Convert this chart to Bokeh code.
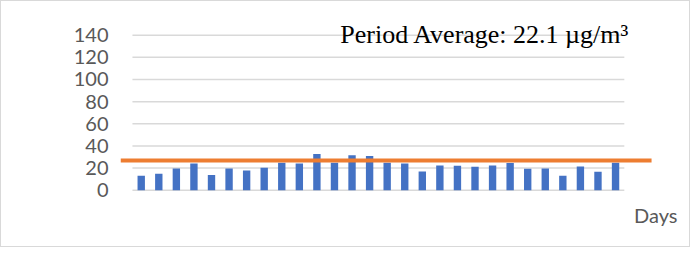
from bokeh.plotting import figure
from bokeh.models import Range1d, FixedTicker, Label, ColumnDataSource
from bokeh.embed import file_html
from bokeh.resources import INLINE

# ---- data ----
days = list(range(1, 29))
pm_values = [13.1, 14.9, 19.7, 24.2, 13.7, 19.7, 17.9, 20.3, 24.8, 24.2, 32.8, 24.8,
             31.6, 31.0, 24.8, 24.2, 17.0, 22.4, 22.1, 21.2, 22.4, 24.5, 19.4, 19.7,
             13.1, 21.5, 16.7, 24.8]
line_level = 26.8
y_ticks = [0, 20, 40, 60, 80, 100, 120, 140]
title_text = "Period Average: 22.1 \u00b5g/m\u00b3"
x_label = "Days"

W, H = 690, 247
p = figure(width=W, height=H, output_backend="svg", toolbar_location=None,
           x_range=Range1d(-0.18, 32.21), y_range=Range1d(-37.3, 161.4),
           min_border_left=119, min_border_right=2, min_border_top=10, min_border_bottom=17)
p.outline_line_color = None
p.background_fill_color = "white"
p.border_fill_color = "white"
p.xgrid.visible = False
p.ygrid.visible = False
p.xaxis.visible = False
p.styles = {"border": "1px solid #d9d9d9", "box-sizing": "border-box"}

# gridlines
p.segment(x0=[0.5] * len(y_ticks), x1=[len(days) + 0.5] * len(y_ticks), y0=y_ticks, y1=y_ticks,
          line_color="#d9d9d9", line_width=1.5)

ya = p.yaxis[0]
ya.ticker = FixedTicker(ticks=y_ticks)
ya.axis_line_color = None
ya.major_tick_line_color = None
ya.minor_tick_line_color = None
ya.major_tick_out = 0
ya.major_tick_in = 0
ya.major_label_standoff = 12
ya.major_label_text_font = "Lato"
ya.major_label_text_font_size = "20px"
ya.major_label_text_color = "#595959"

src = ColumnDataSource(dict(x=days, top=pm_values))
p.vbar(x="x", top="top", bottom=0, width=0.42, source=src, fill_color="#4472C4", line_color=None)

# average line
p.line(x=[-0.18, 30.05], y=[line_level, line_level], line_color="#ED7D31", line_width=4)

p.add_layout(Label(x=20.57, y=140.9, text=title_text, text_align="center", text_baseline="alphabetic",
                   text_font="Liberation Serif", text_font_size="26px", text_color="#000000"))
p.add_layout(Label(x=29.05, y=-22, text=x_label, text_align="left", text_baseline="alphabetic",
                   text_font="Lato", text_font_size="20px", text_color="#595959"))

open("out.html", "w").write(file_html(p, INLINE))
